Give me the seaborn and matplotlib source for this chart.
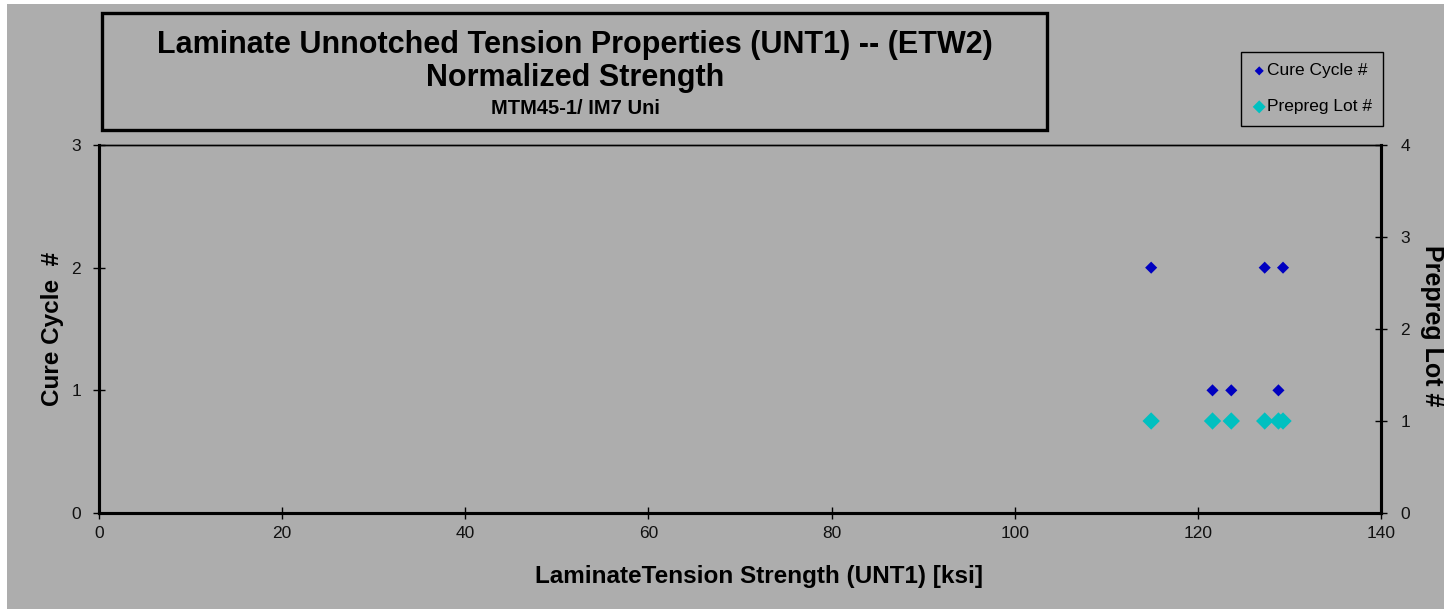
#!/usr/bin/env python3

import matplotlib.pyplot as plt
import matplotlib.patches as mpatches
import pandas as pd
import seaborn as sns

strength = [114.9, 121.6, 123.65, 127.3, 128.8, 129.3]
cure_cycle = [2, 1, 1, 2, 1, 2]
prepreg_lot = [1, 1, 1, 1, 1, 1]

x_ticks = [0, 20, 40, 60, 80, 100, 120, 140]
left_ticks = [0, 1, 2, 3]
right_ticks = [0, 1, 2, 3, 4]

df = pd.DataFrame({"Strength": strength, "Cure": cure_cycle, "Lot": prepreg_lot})

bg = "#adadad"
sns.set_theme(style="white")
plt.rcParams["font.family"] = ["Liberation Sans", "DejaVu Sans"]
plt.rcParams["text.color"] = "black"
plt.rcParams["axes.labelcolor"] = "black"

fig = plt.figure(figsize=(14.44, 6.09), dpi=100, facecolor="white")
fig.patches.append(
    mpatches.Rectangle((7 / 1444, 0), 1 - 7 / 1444, 1 - 4 / 609,
                       transform=fig.transFigure, facecolor=bg, edgecolor="none", zorder=-10)
)

ax = fig.add_axes([99 / 1444, 1 - 513 / 609, (1381 - 99) / 1444, (513 - 145) / 609])
ax.set_facecolor(bg)
ax2 = ax.twinx()

sns.scatterplot(data=df, x="Strength", y="Cure", ax=ax, marker="D", s=38,
                color="#0000c0", edgecolor="none", label="Cure Cycle #", legend=False)
sns.scatterplot(data=df, x="Strength", y="Lot", ax=ax2, marker="D", s=78,
                color="#00c0c0", edgecolor="none", label="Prepreg Lot #", legend=False)

ax.set_xlim(0, 140)
ax.set_ylim(0, 3)
ax2.set_ylim(0, 4)
ax.set_xticks(x_ticks)
ax.set_yticks(left_ticks)
ax2.set_yticks(right_ticks)

for a in (ax, ax2):
    for side in ("left", "bottom", "right"):
        a.spines[side].set_linewidth(2.2)
        a.spines[side].set_color("black")
    a.spines["top"].set_linewidth(1.0)
    a.spines["top"].set_color("black")
    a.tick_params(direction="inout", length=8, width=1, labelsize=12.5,
                  colors="black", labelcolor="#111111", pad=5)

ax.tick_params(axis="y", left=True, pad=9)
ax.tick_params(axis="x", bottom=True)
ax2.tick_params(axis="y", right=True, pad=10)

ax.set_xlabel("LaminateTension Strength (UNT1) [ksi]", fontsize=17.5, fontweight="bold")
ax.set_ylabel("Cure Cycle  #", fontsize=17.5, fontweight="bold")
ax2.set_ylabel("Prepreg Lot #", fontsize=18, fontweight="bold", rotation=270, va="center")
ax.xaxis.set_label_coords(0.515, -0.14)
ax.yaxis.set_label_coords(-0.027, 0.5)
ax2.yaxis.set_label_coords(1.04, 0.51)

# title box
fig.patches.append(
    mpatches.Rectangle((102 / 1444, 1 - 130 / 609), 945 / 1444, 117 / 609,
                       transform=fig.transFigure, facecolor="none", edgecolor="black",
                       linewidth=2.4)
)
tx = 575 / 1444
fig.text(tx, 1 - 45 / 609, "Laminate Unnotched Tension Properties (UNT1) -- (ETW2)",
         ha="center", va="center", fontsize=22, fontweight="bold")
fig.text(tx, 1 - 78 / 609, "Normalized Strength", ha="center", va="center",
         fontsize=22, fontweight="bold")
fig.text(tx, 1 - 108 / 609, "MTM45-1/ IM7 Uni", ha="center", va="center",
         fontsize=14.5, fontweight="bold")

h1, l1 = ax.get_legend_handles_labels()
h2, l2 = ax2.get_legend_handles_labels()
leg = fig.legend(h1 + h2, l1 + l2, loc="upper left",
                 bbox_to_anchor=(1241 / 1444, 1 - 52 / 609),
                 fontsize=12.5, frameon=True, fancybox=False, markerscale=0.75,
                 handletextpad=0.05, handlelength=0.8, labelspacing=1.2,
                 borderpad=0.65, borderaxespad=0, facecolor=bg, edgecolor="black",
                 framealpha=1)
leg.get_frame().set_linewidth(1.0)

fig.savefig("out.png", dpi=100, facecolor="white")
